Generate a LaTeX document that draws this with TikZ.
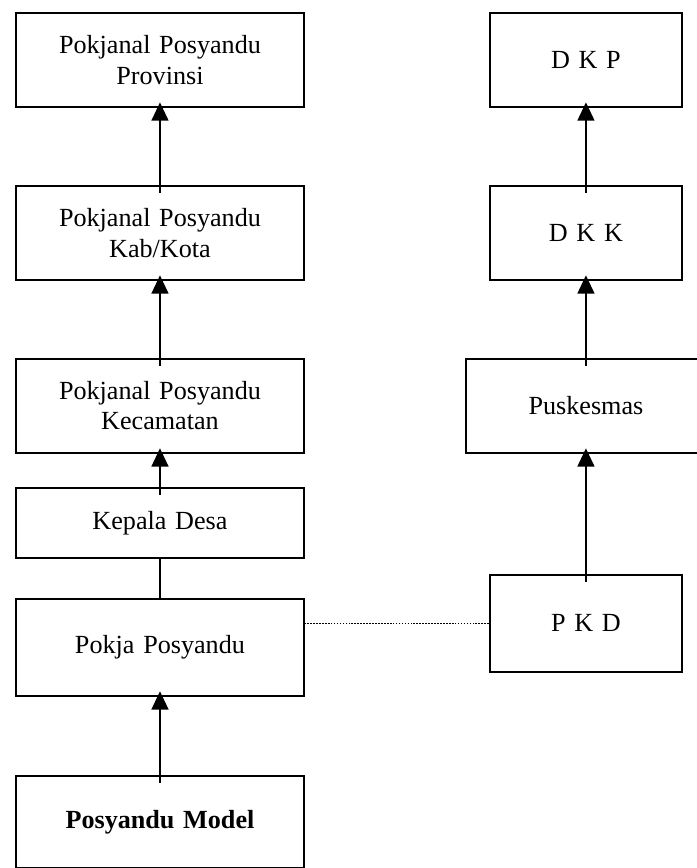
\documentclass[tikz,border=0pt]{standalone}
\usepackage{fontspec}
\setmainfont{Liberation Serif}
\usetikzlibrary{arrows.meta}

\begin{document}
\begin{tikzpicture}[auto]
\tikzstyle{block} = [rectangle, draw=black, line width=1.4pt, inner sep=0pt,
text width=6.8cm, text centered, minimum width=7.2cm, minimum height=2.35cm,
font=\fontsize{18.6}{21.5}\selectfont]
\tikzstyle{block_small} = [block, minimum width=4.8cm, text width=4.4cm]
\tikzstyle{line} = [draw, line width=1.3pt, -{Triangle[width=12pt,length=13pt]},
shorten >=-0.14cm, shorten <=-0.2cm]
\tikzstyle{link} = [draw, line width=1.3pt]
\tikzstyle{dots} = [draw, line width=0.6pt, dash pattern=on 1.2pt off 0.9pt]
\matrix [column sep=4.0cm]
{
% row 1
\node [block] (provinsi) {Pokjanal Posyandu\\ Provinsi}; & \node [block_small] (dkp) {D K P};\\[1.925cm]
% row 2
\node [block] (kabkota) {Pokjanal Posyandu\\ Kab/Kota}; & \node [block_small] (dkk) {D K K};\\[1.925cm]
% row 3
\node [block] (kecamatan) {Pokjanal Posyandu\\ Kecamatan}; & \node [block, minimum width=6cm, text width=5.6cm] (puskesmas) {Puskesmas};\\[0.825cm]
% row 4
\node [block, minimum height=1.75cm] (kades) {Kepala Desa}; & \\[0.375cm]
% row 5
\node [block, minimum height=2.425cm] (pokja) {Pokja Posyandu}; & \node [block_small, minimum height=2.425cm, yshift=0.6cm] (pkd) {P K D};\\[1.95cm]
% row 6
\node [block, minimum height=2.3cm] (posmodel) {\textbf{Posyandu Model}}; & \\
};
\path [line] (posmodel.north) -- (pokja.south);
\path [link] (kades.south) -- (pokja.north);
\path [line] (kades.north) -- (kecamatan.south);
\path [line] (kecamatan.north) -- (kabkota.south);
\path [line] (kabkota.north) -- (provinsi.south);
\path [dots] (pkd.west) -- (pkd.west -| pokja.east);
\path [line] (pkd.north) -- (pkd.north |- puskesmas.south);
\path [line] (puskesmas.north -| dkk.south) -- (dkk.south);
\path [line] (dkk.north) -- (dkp.south);

\pgfresetboundingbox
\useasboundingbox (provinsi.north west) ++(-0.375,0.3) rectangle ++(17.4,-21.7);
\end{tikzpicture}
\end{document}
